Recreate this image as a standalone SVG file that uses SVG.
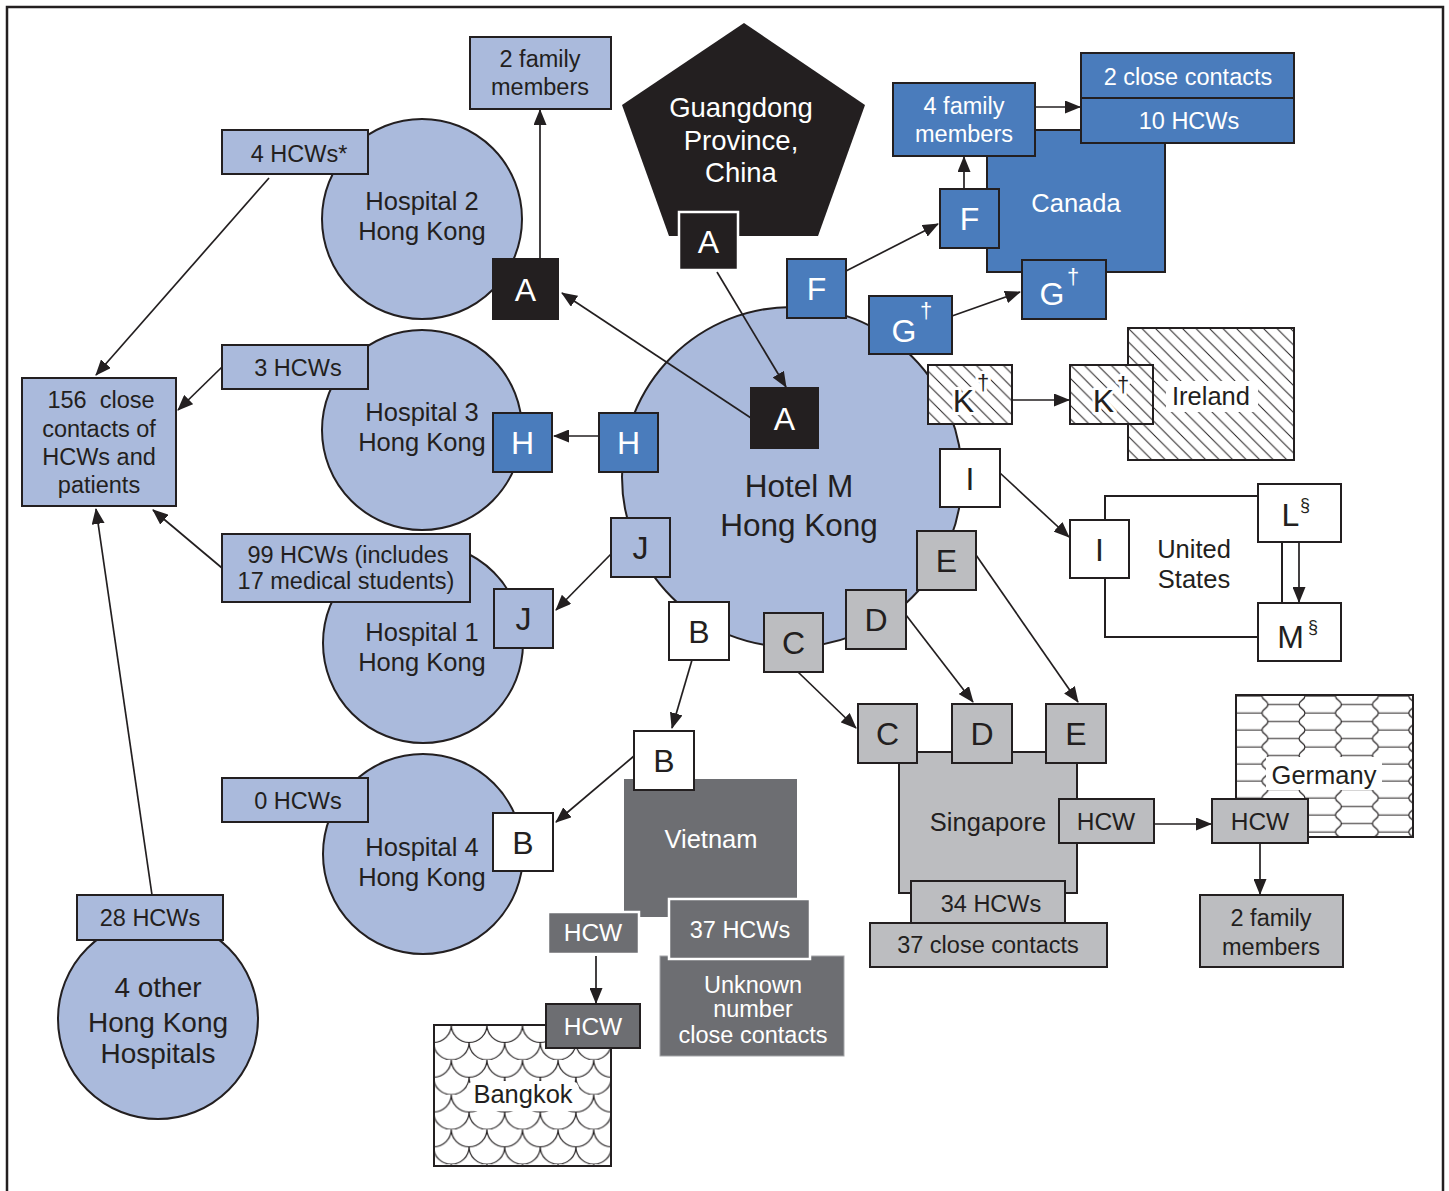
<svg xmlns="http://www.w3.org/2000/svg" width="1449" height="1191" viewBox="0 0 1449 1191">
<style>
text{font-family:"Liberation Sans",Arial,Helvetica,sans-serif;fill:#231f20;text-anchor:middle}
.w{fill:#fff}
.f23{font-size:23.5px}.f24{font-size:24.5px}.f25{font-size:25.5px}.f27{font-size:27.5px}.f28{font-size:28px}.f31{font-size:31.5px}.f32{font-size:32px}
.sup{font-size:22px}.sec{font-size:18px}
.lb{fill:#aabadc;stroke:#231f20;stroke-width:2}
.bl{fill:#4a7cbc;stroke:#231f20;stroke-width:2}
.bk{fill:#231f20;stroke:#231f20;stroke-width:2}
.wh{fill:#fff;stroke:#231f20;stroke-width:2}
.lg{fill:#bcbdc0;stroke:#231f20;stroke-width:2}
.dg{fill:#6d6e72;stroke:#231f20;stroke-width:2}
.dgw{fill:#6d6e72;stroke:#fff;stroke-width:2.5}
.bkw{fill:#231f20;stroke:#fff;stroke-width:2.5}
.halo{stroke:#fff;stroke-width:6;paint-order:stroke;stroke-linejoin:round}
#connectors path{fill:none;stroke:#231f20;stroke-width:1.7;marker-end:url(#arr)}
</style>
<defs>
<marker id="arr" markerUnits="userSpaceOnUse" markerWidth="16" markerHeight="13" viewBox="0 0 16 13" refX="15" refY="6.5" orient="auto">
<path d="M0,0 L16,6.5 L0,13 z" fill="#231f20"/>
</marker>
<pattern id="hatch" patternUnits="userSpaceOnUse" width="13.5" height="13.5" x="1128" y="328">
<rect width="13.5" height="13.5" fill="#fff"/>
<path d="M-3,-3 L16.5,16.5 M-3,10.5 L3,16.5 M10.5,-3 L16.5,3" stroke="#231f20" stroke-width="1"/>
</pattern>
<pattern id="cobble" patternUnits="userSpaceOnUse" width="73.4" height="17" x="1232.6" y="708.75">
<rect width="73.4" height="17" fill="#fff"/>
<path d="M-1,4.25 H29.4 M72.4,4.25 H75 M35.4,12.75 H66.4 M35.4,-4.25 C35.4,0 29.4,0 29.4,4.25 C29.4,8.5 35.4,8.5 35.4,12.75 C35.4,17 29.4,17 29.4,21.25 M66.4,-4.25 C66.4,0 72.4,0 72.4,4.25 C72.4,8.5 66.4,8.5 66.4,12.75 C66.4,17 72.4,17 72.4,21.25" fill="none" stroke="#231f20" stroke-width="1.2"/>
</pattern>
<pattern id="scales" patternUnits="userSpaceOnUse" width="35.6" height="34.8" x="451.3" y="1025">
<rect width="35.6" height="34.8" fill="#fff"/>
<path d="M0,0 A17.8,17.4 0 0 0 35.6,0 M-17.8,17.4 A17.8,17.4 0 0 0 17.8,17.4 M17.8,17.4 A17.8,17.4 0 0 0 53.4,17.4" fill="none" stroke="#231f20" stroke-width="1.2"/>
</pattern>
</defs>

<rect x="7" y="7" width="1436" height="1210" fill="#fff" stroke="#231f20" stroke-width="2.5"/>

<!-- background regions -->
<g id="hospital2">
<circle cx="422" cy="219" r="100" class="lb"/>
<text class="f25" x="422" y="210">Hospital 2</text>
<text class="f25" x="422" y="240">Hong Kong</text>
</g>
<g id="hospital3">
<circle cx="422" cy="430" r="100" class="lb"/>
<text class="f25" x="422" y="421">Hospital 3</text>
<text class="f25" x="422" y="451">Hong Kong</text>
</g>
<g id="hospital1">
<circle cx="423" cy="643" r="100" class="lb"/>
<text class="f25" x="422" y="641">Hospital 1</text>
<text class="f25" x="422" y="671">Hong Kong</text>
</g>
<g id="hospital4">
<circle cx="423" cy="854" r="100" class="lb"/>
<text class="f25" x="422" y="856">Hospital 4</text>
<text class="f25" x="422" y="886">Hong Kong</text>
</g>
<g id="other-hospitals">
<circle cx="158" cy="1019" r="100" class="lb"/>
<text class="f28" x="158" y="997">4 other</text>
<text class="f28" x="158" y="1032">Hong Kong</text>
<text class="f28" x="158" y="1063">Hospitals</text>
</g>
<g id="hotel-m">
<circle cx="792" cy="477" r="170" class="lb"/>
<text class="f31" x="799" y="497">Hotel M</text>
<text class="f31" x="799" y="536">Hong Kong</text>
</g>
<g id="guangdong">
<polygon points="744,23 865,105 818,236 669,236 622,105" fill="#231f20"/>
<text class="f27 w" x="741" y="117">Guangdong</text>
<text class="f27 w" x="741" y="150">Province,</text>
<text class="f27 w" x="741" y="182">China</text>
</g>
<g id="canada">
<rect x="987" y="130" width="178" height="142" class="bl"/>
<text class="f25 w" x="1076" y="212">Canada</text>
</g>
<g id="ireland">
<rect x="1128" y="328" width="166" height="132" fill="url(#hatch)" stroke="#231f20" stroke-width="2"/>
<rect x="1166" y="381" width="92" height="31" fill="#fff"/>
<text class="f25" x="1211" y="405">Ireland</text>
</g>
<g id="united-states">
<rect x="1105" y="496" width="177" height="141" fill="#fff" stroke="#231f20" stroke-width="2"/>
<text class="f25" x="1194" y="558">United</text>
<text class="f25" x="1194" y="588">States</text>
</g>
<g id="singapore">
<rect x="899" y="752" width="178" height="141" class="lg"/>
<text class="f25" x="988" y="831">Singapore</text>
</g>
<g id="germany">
<rect x="1236" y="695" width="177" height="142" fill="url(#cobble)" stroke="#231f20" stroke-width="2"/>
<rect x="1266" y="757" width="116" height="33" fill="#fff"/>
<text class="f25" x="1324" y="784">Germany</text>
</g>
<g id="vietnam">
<rect x="624" y="779" width="173" height="138" fill="#6d6e72"/>
<text class="f25 w" x="711" y="848">Vietnam</text>
</g>
<g id="bangkok">
<rect x="434" y="1025" width="177" height="141" fill="url(#scales)" stroke="#231f20" stroke-width="2"/>
<rect x="467" y="1081" width="112" height="30" rx="8" fill="#fff"/>
<text class="f25" x="523" y="1103">Bangkok</text>
</g>

<!-- connectors -->
<g id="connectors">
<path d="M540,259 L540,110"/>
<path d="M269,178 L96,375"/>
<path d="M222,367 L178,410"/>
<path d="M222,568 L153,510"/>
<path d="M152,895 L96,509"/>
<path d="M717,272 L786,387"/>
<path d="M751,418 L562,293"/>
<path d="M599,436 L554,436"/>
<path d="M611,554 L556,610"/>
<path d="M634,756 L556,822"/>
<path d="M692,660 L672,728"/>
<path d="M798,672 L856,728"/>
<path d="M906,615 L973,702"/>
<path d="M976,555 L1078,702"/>
<path d="M1000,473 L1069,537"/>
<path d="M1012,400 L1069,400"/>
<path d="M952,316 L1020,292"/>
<path d="M846,271 L938,224"/>
<path d="M964,189 L964,157"/>
<path d="M1035,107 L1080,107"/>
<path d="M1299,542 L1299,602"/>
<path d="M1154,824 L1211,824"/>
<path d="M1260,843 L1260,894"/>
<path d="M596,956 L596,1003"/>
</g>

<!-- label boxes -->
<g id="family-2-hk"><rect x="470" y="37" width="141" height="72" class="lb"/><text class="f23" x="540" y="67">2 family</text><text class="f23" x="540" y="95">members</text></g>
<g id="hcws-4"><rect x="222" y="130" width="146" height="44" class="lb"/><text class="f23" x="299" y="162">4 HCWs*</text></g>
<g id="hcws-3"><rect x="222" y="345" width="146" height="44" class="lb"/><text class="f23" x="298" y="376">3 HCWs</text></g>
<g id="close-156"><rect x="22" y="378" width="154" height="128" class="lb"/>
<text class="f23" x="101" y="408" xml:space="preserve">156  close</text>
<text class="f23" x="99" y="437">contacts of</text>
<text class="f23" x="99" y="465">HCWs and</text>
<text class="f23" x="99" y="493">patients</text></g>
<g id="hcws-99"><rect x="222" y="534" width="248" height="68" class="lb"/><text class="f23" x="348" y="563">99 HCWs (includes</text><text class="f23" x="346" y="589">17 medical students)</text></g>
<g id="hcws-0"><rect x="222" y="778" width="146" height="44" class="lb"/><text class="f23" x="298" y="809">0 HCWs</text></g>
<g id="hcws-28"><rect x="77" y="895" width="146" height="45" class="lb"/><text class="f23" x="150" y="926">28 HCWs</text></g>

<g id="family-4-canada"><rect x="893" y="83" width="142" height="73" class="bl"/><text class="f23 w" x="964" y="114">4 family</text><text class="f23 w" x="964" y="142">members</text></g>
<g id="close-2-canada"><rect x="1081" y="53" width="213" height="45" class="bl"/><text class="f23 w" x="1188" y="85">2 close contacts</text></g>
<g id="hcws-10-canada"><rect x="1081" y="98" width="213" height="45" class="bl"/><text class="f23 w" x="1189" y="129">10 HCWs</text></g>

<g id="hcws-34-sg"><rect x="911" y="881" width="154" height="42" class="lg"/><text class="f23" x="991" y="912">34 HCWs</text></g>
<g id="close-37-sg"><rect x="870" y="923" width="237" height="44" class="lg"/><text class="f23" x="988" y="953">37 close contacts</text></g>
<g id="hcw-sg"><rect x="1059" y="799" width="95" height="44" class="lg"/><text class="f24" x="1106" y="830">HCW</text></g>
<g id="hcw-de"><rect x="1212" y="799" width="96" height="44" class="lg"/><text class="f24" x="1260" y="830">HCW</text></g>
<g id="family-2-de"><rect x="1200" y="895" width="143" height="72" class="lg"/><text class="f23" x="1271" y="926">2 family</text><text class="f23" x="1271" y="955">members</text></g>

<g id="unknown-vn"><rect x="660" y="956" width="184" height="100" fill="#6d6e72" stroke="#a5a6a9" stroke-width="1"/>
<text class="f23 w" x="753" y="993">Unknown</text><text class="f23 w" x="753" y="1017">number</text><text class="f23 w" x="753" y="1043">close contacts</text></g>
<g id="hcws-37-vn"><rect x="669" y="899" width="141" height="60" class="dgw"/><text class="f23 w" x="740" y="938">37 HCWs</text></g>
<g id="hcw-vn"><rect x="548" y="912" width="91" height="42" class="dgw"/><text class="f24 w" x="593" y="941">HCW</text></g>
<g id="hcw-th"><rect x="546" y="1004" width="94" height="44" class="dg"/><text class="f24 w" x="593" y="1035">HCW</text></g>

<!-- case letter boxes -->
<g id="A-penta"><rect x="679" y="212" width="59" height="58" class="bkw"/><text class="f32 w" x="708.5" y="252.5">A</text></g>
<g id="A-hotel"><rect x="751" y="388" width="67" height="60" class="bk"/><text class="f32 w" x="784.5" y="429.5">A</text></g>
<g id="A-hosp2"><rect x="493" y="259" width="65" height="60" class="bk"/><text class="f32 w" x="525.5" y="300.5">A</text></g>
<g id="F-hotel"><rect x="787" y="259" width="59" height="59" class="bl"/><text class="f32 w" x="816.5" y="300">F</text></g>
<g id="F-canada"><rect x="940" y="189" width="59" height="59" class="bl"/><text class="f32 w" x="969.5" y="230">F</text></g>
<g id="G-hotel"><rect x="869" y="296" width="83" height="58" class="bl"/><text class="f32 w" x="904" y="342">G</text><text class="sup w" x="926" y="318">†</text></g>
<g id="G-canada"><rect x="1022" y="260" width="84" height="59" class="bl"/><text class="f32 w" x="1052" y="305">G</text><text class="sup w" x="1073" y="284">†</text></g>
<g id="K-hotel"><rect x="928" y="365" width="84" height="59" fill="url(#hatch)" stroke="#231f20" stroke-width="2"/><text class="f32 halo" x="963.5" y="412">K</text><text class="sup halo" x="983" y="390">†</text></g>
<g id="K-ireland"><rect x="1070" y="365" width="83" height="59" fill="url(#hatch)" stroke="#231f20" stroke-width="2"/><text class="f32 halo" x="1103.5" y="412">K</text><text class="sup halo" x="1123" y="392">†</text></g>
<g id="H-hosp3"><rect x="493" y="413" width="59" height="59" class="bl"/><text class="f32 w" x="522.5" y="454">H</text></g>
<g id="H-hotel"><rect x="599" y="413" width="59" height="59" class="bl"/><text class="f32 w" x="628.5" y="454">H</text></g>
<g id="J-hotel"><rect x="611" y="518" width="59" height="59" class="lb"/><text class="f32" x="640.5" y="559">J</text></g>
<g id="J-hosp1"><rect x="494" y="589" width="59" height="59" class="lb"/><text class="f32" x="523.5" y="630">J</text></g>
<g id="B-hotel"><rect x="669" y="602" width="60" height="58" class="wh"/><text class="f32" x="699" y="642.5">B</text></g>
<g id="B-vietnam"><rect x="634" y="731" width="60" height="59" class="wh"/><text class="f32" x="664" y="772">B</text></g>
<g id="B-hosp4"><rect x="493" y="813" width="60" height="58" class="wh"/><text class="f32" x="523" y="853.5">B</text></g>
<g id="C-hotel"><rect x="764" y="613" width="59" height="59" class="lg"/><text class="f32" x="793.5" y="654">C</text></g>
<g id="D-hotel"><rect x="846" y="590" width="60" height="59" class="lg"/><text class="f32" x="876" y="631">D</text></g>
<g id="E-hotel"><rect x="917" y="531" width="59" height="59" class="lg"/><text class="f32" x="946.5" y="572">E</text></g>
<g id="C-sg"><rect x="858" y="704" width="59" height="59" class="lg"/><text class="f32" x="887.5" y="745">C</text></g>
<g id="D-sg"><rect x="952" y="704" width="60" height="59" class="lg"/><text class="f32" x="982" y="745">D</text></g>
<g id="E-sg"><rect x="1046" y="704" width="60" height="59" class="lg"/><text class="f32" x="1076" y="745">E</text></g>
<g id="I-hotel"><rect x="940" y="449" width="60" height="58" class="wh"/><text class="f32" x="970" y="490">I</text></g>
<g id="I-us"><rect x="1070" y="520" width="59" height="58" class="wh"/><text class="f32" x="1099.5" y="561">I</text></g>
<g id="L-us"><rect x="1258" y="484" width="83" height="58" class="wh"/><text class="f32" x="1290.5" y="526">L</text><text class="sec" x="1305" y="511">§</text></g>
<g id="M-us"><rect x="1258" y="603" width="83" height="58" class="wh"/><text class="f32" x="1290.5" y="648">M</text><text class="sec" x="1313" y="633">§</text></g>
</svg>
